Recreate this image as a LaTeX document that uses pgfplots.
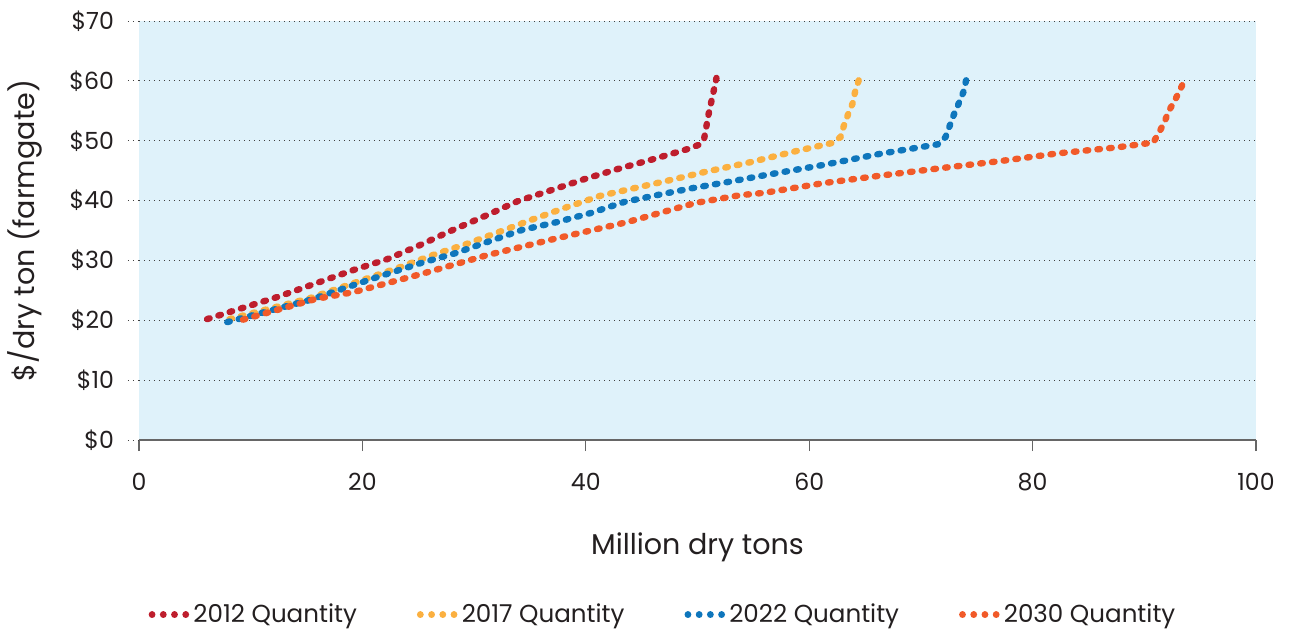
\documentclass[border=0pt]{standalone}
\usepackage{pgfplots}
\pgfplotsset{compat=1.18}
\usepackage{fontspec}
\setmainfont{Poppins}
\definecolor{bgblue}{RGB}{223,242,250}
\definecolor{cRed}{RGB}{190,30,45}
\definecolor{cYel}{RGB}{251,176,64}
\definecolor{cBlue}{RGB}{14,118,188}
\definecolor{cOr}{RGB}{241,90,41}
\definecolor{txt}{RGB}{35,31,32}
\pgfplotsset{
  dotline/.style={line width=3.2pt, line cap=round, dash pattern=on 1.3pt off 4.6pt},
}
\begin{document}
\begin{tikzpicture}
\useasboundingbox (-69.5pt,-94.5pt) rectangle (576pt,220pt);
\begin{axis}[
  at={(0,0)}, anchor=south west,
  scale only axis,
  width=558.5pt, height=209.5pt,
  xmin=0, xmax=100, ymin=0, ymax=70,
  axis background/.style={fill=bgblue},
  axis x line=bottom, axis y line=left,
  x axis line style={-, draw=black!60, line width=0.8pt},
  y axis line style={draw=none},
  xtick={0,20,40,60,80,100},
  xticklabels={0,20,40,60,80,100},
  ytick={0,10,20,30,40,50,60,70},
  yticklabels={\$0,\$10,\$20,\$30,\$40,\$50,\$60,\$70},
  tick align=outside,
  major tick length=5.5pt,
  xtick style={draw=black!60, line width=0.6pt},
  ytick style={draw=black!75, line width=0.5pt, dotted},
  ymajorgrids,
  grid style={draw=black!75, line width=0.5pt, dotted},
  tick label style={font=\fontsize{11.8}{13}\selectfont, text=txt},
  xticklabel style={yshift=-7.5pt},
  yticklabel style={xshift=-3.5pt},
  xlabel={Million dry tons},
  ylabel={\$/dry ton (farmgate)},
  label style={font=\fontsize{14.3}{16}\selectfont, text=txt},
  xlabel style={at={(axis description cs:0.5,-0.255)}, anchor=center},
  ylabel style={at={(axis description cs:-0.102,0.5)}, anchor=center},
  legend style={at={(axis description cs:0.47,-0.417)}, anchor=center, draw=none, fill=none,
    font=\fontsize{12.3}{14}\selectfont, text=txt, legend columns=4,
    /tikz/every even column/.append style={column sep=28pt}},
  legend cell align=left,
  legend image code/.code={\draw[#1, line width=3.4pt, line cap=round, dash pattern=on 0.01pt off 5.6pt] (0pt,0pt) -- (17pt,0pt);},
  clip=false,
]
\addplot[cRed, dotline] coordinates {
(6.1,20.2) (12.4,23.9) (19.2,28.4) (22.2,30.2) (25.2,32.6) (28.1,35.1) (31.2,37.6)
(33.9,39.9) (37.0,41.8) (39.9,43.6) (42.9,45.3) (46.0,46.9) (49.1,48.6) (50.1,49.3)
(50.6,50.4) (51.0,54.5) (51.4,57.9) (51.7,60.5)};
\addlegendentry{2012 Quantity}
\addplot[cYel, dotline] coordinates {
(8.1,20.2) (15.3,23.7) (19.2,26.2) (23.4,28.9) (26.3,30.9) (29.4,32.8) (32.3,34.8)
(35.3,36.9) (38.3,38.9) (41.3,40.8) (44.4,42.1) (47.5,43.4) (50.7,44.8) (54.7,46.4)
(58.9,48.3) (62.0,49.6) (62.8,50.6) (63.1,52.5) (63.5,54.5) (63.9,56.3) (64.1,58.1) (64.5,60.5)};
\addlegendentry{2017 Quantity}
\addplot[cBlue, dotline] coordinates {
(7.9,19.7) (15.3,23.4) (21.3,27.2) (25.3,29.6) (28.3,31.2) (31.2,33.1) (34.3,35.1)
(37.4,36.4) (40.4,37.9) (43.5,39.8) (46.6,41.0) (49.6,42.1) (52.7,43.1) (55.9,44.2)
(61.1,45.9) (66.3,47.8) (71.5,49.4) (72.2,50.6) (72.6,52.6) (73.0,54.6) (73.4,56.3) (73.8,58.1) (74.1,60.5)};
\addlegendentry{2022 Quantity}
\addplot[cOr, dotline] coordinates {
(9.3,20.1) (15.9,23.6) (19.2,24.7) (25.2,27.7) (31.2,30.9) (37.4,33.7) (43.7,36.4)
(49.8,39.6) (53.8,40.9) (56.0,41.3) (61.2,42.9) (66.5,44.2) (71.7,45.4) (77.1,46.6)
(82.3,47.9) (87.6,48.9) (90.8,49.7) (91.3,51.3) (91.8,53.1) (92.2,55.0) (92.7,56.6) (93.2,58.5) (93.7,60.5)};
\addlegendentry{2030 Quantity}
\end{axis}
\end{tikzpicture}
\end{document}
